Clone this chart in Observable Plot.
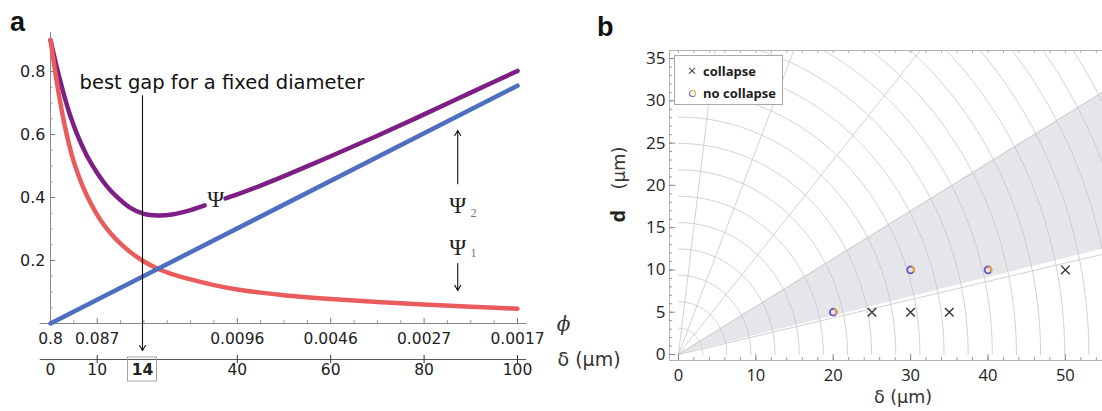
<!DOCTYPE html>
<html><head><meta charset="utf-8">
<script src="https://cdn.jsdelivr.net/npm/d3@7"></script>
<script src="https://cdn.jsdelivr.net/npm/@observablehq/plot@0.6"></script>
<style>
html,body{margin:0;padding:0;background:#fff;}
#wrap{position:relative;width:1102px;height:411px;overflow:hidden;background:#fff;}
.letter{font-family:"Liberation Sans",Arial,sans-serif;font-weight:bold;font-size:27px;line-height:27px;color:#111;}
#legend{border:1px solid #a8a8a8;background:#fff;font-family:"Open Sans",sans-serif;font-weight:bold;font-size:13px;color:#222;box-sizing:border-box;}
#legend .row{position:absolute;left:0;white-space:nowrap;}
#legend .sym{display:inline-block;width:22px;text-align:center;font-weight:normal;color:#444;}
#legend .ring{display:inline-block;width:5px;height:5px;border-radius:50%;border:1.8px solid;border-color:#f0a030 #f0a030 #7060c0 #7060c0;vertical-align:middle;margin-top:-2px;}
</style></head><body><div id="wrap"></div>
<script>
// ---------------- Panel a data ----------------
const tRed   = [0,1,2,3,4,5,6,7,8,10,12,14,17,20,23,26,30,35,40,45,50,60,70,80,90,100];
const psi1   = [0.90,0.80,0.71,0.632,0.567,0.513,0.47,0.432,0.40,0.345,0.302,0.268,0.228,0.197,0.174,0.157,0.14,0.122,0.108,0.098,0.09,0.078,0.068,0.06,0.053,0.047];
const tPsi   = [0,1,2,3,4,5,6,7,8,10,12,14,17,20,23,26,30,33,35,37.5,40,45,50,60,70,80,90,100];
const psiTot = [0.90,0.835,0.775,0.72,0.67,0.628,0.59,0.557,0.527,0.478,0.437,0.405,0.368,0.348,0.343,0.346,0.36,0.375,null,0.397,0.41,0.438,0.468,0.531,0.596,0.664,0.733,0.802];
const tBlue  = [0,100];
const psi2   = [0,0.755];
const yTicksA = [0.2,0.4,0.6,0.8];
const phiTickPos = [0,10,40,60,80,100];
const phiTickLabels = ["0.8","0.087","0.0096","0.0046","0.0027","0.0017"];
const deltaTickPos = [0,10,19.7,40,60,80,100];
const deltaTickLabels = ["0","10","14","40","60","80","100"];
const deltaMajorTicks = [10,40,60,80,100];
const bestGapLabel = "14";
const bestGapT = 19.7;
// annotation anchors (in data units of panel a)
const noteText = [{text:"best gap for a fixed diameter", t:36.7, v:0.765}];
const psiLabel = [{text:"Ψ", t:35.4, v:0.392}];
const psiSideLabels = [{text:"Ψ", sub:"2", t:87.2, v:0.375, subT:90.6, subV:0.349},
                       {text:"Ψ", sub:"1", t:87.2, v:0.241, subT:90.6, subV:0.222}];
const arrowsA = [{t1:bestGapT,v1:0.724,t2:bestGapT,v2:-0.086},
                 {t1:87.2,v1:0.444,t2:87.2,v2:0.613},
                 {t1:87.2,v1:0.19,t2:87.2,v2:0.105}];

// ---------------- Panel b data ----------------
const collapseDelta = [25,30,35,50];
const collapseD     = [5,5,5,10];
const noCollapseDelta = [20,30,40];
const noCollapseD     = [5,10,10];
const wedgeAngles = [12.8,29.5];   // degrees: lower and upper edge of grey sector
const wedgeLowerLine = 12.2;
const radialAngles = [82.5,67.5,49];
const arcRadii = [3.12,6.24,9.36,12.48,15.6,18.72,21.84,24.96,28.08,31.2,34.32,37.44,40.56,43.68,46.8,49.92,53.04,56.16,59.28,62.4,65.52];
const xTicksB = [0,10,20,30,40,50];
const yTicksB = [0,5,10,15,20,25,30,35];

// ---------------- build ----------------
const wrap = document.getElementById("wrap");
function place(el, left, top){ el.style.position="absolute"; el.style.left=left+"px"; el.style.top=top+"px"; wrap.appendChild(el); return el; }

const red = tRed.map((t,i)=>({t, v:psi1[i]}));
const purple = tPsi.map((t,i)=>({t, v:psiTot[i]}));
const blue = tBlue.map((t,i)=>({t, v:psi2[i]}));
const yMinorA = d3.range(1,19).map(k=>k*0.05).filter(v=>!yTicksA.some(m=>Math.abs(m-v)<1e-6));
const xMinorA = d3.range(1,21).map(k=>k*5).filter(v=>!phiTickPos.includes(v));
const SERIF = "Liberation Serif";

const plotA = Plot.plot({
  width: 600, height: 411,
  marginLeft: 50, marginRight: 83, marginTop: 32, marginBottom: 88,
  x: {domain: [0,100], axis: null},
  y: {domain: [0,0.924], axis: null},
  style: {fontFamily: "DejaVu Sans", color: "#222", background: "transparent", overflow: "visible"},
  marks: [
    Plot.ruleX([0], {stroke: "#8a8a8a"}),
    Plot.ruleY([0], {x1: -2.2, x2: 102, stroke: "#8a8a8a", clip: false}),
    Plot.ruleY(yMinorA, {x1: 0, x2: 0.55, stroke: "#999"}),
    Plot.ruleY(yTicksA, {x1: 0, x2: 1.1, stroke: "#777"}),
    Plot.ruleX(xMinorA, {y1: 0, y2: 0.009, stroke: "#999"}),
    Plot.ruleX(phiTickPos, {y1: 0, y2: 0.016, stroke: "#777"}),
    Plot.axisY({ticks: yTicksA, tickSize: 0, tickPadding: 5, fontSize: 16, label: null, tickFormat: d=>d.toFixed(1)}),
    Plot.axisX({ticks: phiTickPos, tickSize: 0, tickPadding: 9, fontSize: 15.5, label: null,
                tickFormat: d=>phiTickLabels[phiTickPos.indexOf(d)]}),
    Plot.line(purple, {x: "t", y: "v", stroke: "#7d1f85", strokeWidth: 4.5, curve: "catmull-rom"}),
    Plot.line(red, {x: "t", y: "v", stroke: "#ea5b5c", strokeWidth: 4.5, curve: "catmull-rom"}),
    Plot.line(blue, {x: "t", y: "v", stroke: "#4e6ec0", strokeWidth: 4.5}),
    Plot.arrow(arrowsA, {x1: "t1", y1: "v1", x2: "t2", y2: "v2", stroke: "#111", strokeWidth: 1.1, headLength: 8, clip: false}),
    Plot.text(noteText, {x: "t", y: "v", text: "text", fontSize: 19.5, fill: "#111"}),
    Plot.text(psiLabel, {x: "t", y: "v", text: "text", fontSize: 23, fontFamily: SERIF, fill: "#222"}),
    Plot.text(psiSideLabels, {x: "t", y: "v", text: "text", fontSize: 23, fontFamily: SERIF, fill: "#222"}),
    Plot.text(psiSideLabels, {x: "subT", y: "subV", text: "sub", fontSize: 12, fontFamily: SERIF, fill: "#777"}),
    Plot.text(["ϕ"], {x: 100, y: 0, dx: 46, dy: 1, fontSize: 20, fontFamily: "DejaVu Serif", fontStyle: "italic", fill: "#333"})
  ]
});
place(plotA, 0, 0);

// delta axis under panel a
const deltaTicks = deltaTickPos.map((p,i)=>({p, label: deltaTickLabels[i]}));
const plotDelta = Plot.plot({
  width: 600, height: 60,
  marginLeft: 50, marginRight: 83, marginTop: 15, marginBottom: 37,
  x: {domain: [0,100], axis: null},
  y: {domain: [0,1], axis: null},
  style: {fontFamily: "DejaVu Sans", color: "#222", background: "transparent", overflow: "visible"},
  marks: [
    Plot.ruleY([0.5], {x1: -2.2, x2: 102, stroke: "#555", clip: false}),
    Plot.tickX(deltaMajorTicks, {x: d=>d, stroke: "#333"}),
    Plot.text(deltaTicks.filter(d=>d.label!==bestGapLabel), {x: "p", text: "label", frameAnchor: "bottom", dy: 11, fontSize: 15.5}),
    Plot.text(deltaTicks.filter(d=>d.label===bestGapLabel), {x: "p", text: "label", frameAnchor: "bottom", dy: 11, fontSize: 15.5, fontWeight: "bold"}),
    Plot.rect(deltaTicks.filter(d=>d.label===bestGapLabel), {x1: d=>d.p-3.1, x2: d=>d.p+3.1, insetTop: 2, insetBottom: -18, fill: "none", stroke: "#999", strokeWidth: 0.9}),
    Plot.text(["δ (μm)"], {x: 100, dx: 40, textAnchor: "start", fontSize: 19, fill: "#333"})
  ]
});
place(plotDelta, 0, 340);

// ---------------- Panel b ----------------
const rad = Math.PI/180;
const collapse = collapseDelta.map((x,i)=>({x, y: collapseD[i]}));
const noCollapse = noCollapseDelta.map((x,i)=>({x, y: noCollapseD[i]}));
const arcs = arcRadii.flatMap(r => d3.range(0, 91, 1.5).map(a => ({r, x: r*Math.cos(a*rad), y: r*Math.sin(a*rad)})));
const radials = radialAngles.map(a => ({x: 90*Math.cos(a*rad), y: 90*Math.sin(a*rad)}));
const wedge = [0, 70].map(x => ({x, lo: x*Math.tan(wedgeAngles[0]*rad), hi: x*Math.tan(wedgeAngles[1]*rad)}));
const wedgeEdges = [wedgeAngles[1], wedgeLowerLine].map(a => ({x: 90*Math.cos(a*rad), y: 90*Math.sin(a*rad)}));
const xMinorB = d3.range(0, 55, 2);
const yMinorB = d3.range(0, 36, 1);
const XMIN = -1.16, XMAX = 54.8, YMIN = -0.71, YMAX = 35.95;

const plotB = Plot.plot({
  width: 522, height: 411,
  marginLeft: 89, marginRight: 0, marginTop: 50, marginBottom: 51,
  x: {domain: [XMIN, XMAX], axis: null},
  y: {domain: [YMIN, YMAX], axis: null},
  style: {fontFamily: "Open Sans", color: "#222", background: "transparent", overflow: "visible"},
  marks: [
    Plot.areaY(wedge, {x: "x", y1: "lo", y2: "hi", fill: "#e5e6e9", clip: true}),
    Plot.line(arcs, {x: "x", y: "y", z: "r", stroke: "#c6c6c6", strokeWidth: 0.8, clip: true}),
    Plot.link(radials, {x1: 0, y1: 0, x2: "x", y2: "y", stroke: "#c6c6c6", strokeWidth: 0.8, clip: true}),
    Plot.link(wedgeEdges, {x1: 0, y1: 0, x2: "x", y2: "y", stroke: "#c4c4c4", strokeWidth: 0.8, clip: true}),
    Plot.frame({stroke: "#b4b4b4"}),
    Plot.ruleY(yMinorB, {x1: XMIN, x2: XMIN+0.4, stroke: "#999"}),
    Plot.ruleY(yTicksB, {x1: XMIN, x2: XMIN+0.8, stroke: "#888"}),
    Plot.ruleX(xMinorB, {y1: YMIN, y2: YMIN+0.35, stroke: "#999"}),
    Plot.ruleX(xTicksB, {y1: YMIN, y2: YMIN+0.7, stroke: "#888"}),
    Plot.ruleX(xMinorB, {y1: YMAX-0.35, y2: YMAX, stroke: "#aaa"}),
    Plot.axisX({ticks: xTicksB, tickSize: 0, tickPadding: 9, fontSize: 16.5, label: null}),
    Plot.axisY({ticks: yTicksB, tickSize: 0, tickPadding: 4, fontSize: 17, label: null}),
    Plot.dot(collapse, {x: "x", y: "y", symbol: "times", r: 4, stroke: "#333", strokeWidth: 1.4}),
    Plot.dot(noCollapse, {x: "x", y: "y", r: 3.4, stroke: "#6e5ec2", strokeWidth: 1.9}),
    Plot.dot(noCollapse, {x: "x", y: "y", r: 3.4, stroke: "#f0a030", strokeWidth: 1.9, strokeDasharray: "8 14", strokeDashoffset: 5.5}),
    Plot.text(["δ (μm)"], {frameAnchor: "bottom", dx: 17, dy: 42, fontSize: 17.5, fontFamily: "DejaVu Sans", fill: "#333"}),
    Plot.text(["d"], {frameAnchor: "left", dx: -50.5, dy: 17, rotate: -90, fontSize: 20, fontWeight: "bold", fill: "#222"}),
    Plot.text(["(μm)"], {frameAnchor: "left", dx: -50.5, dy: -16, rotate: -90, fontSize: 18, fontFamily: "DejaVu Sans", fill: "#333"})
  ]
});
place(plotB, 580, 0);

// legend (panel b)
const legend = document.createElement("div");
legend.id = "legend";
legend.style.width = "109px"; legend.style.height = "50px";
legend.innerHTML = '<div class="row" style="top:4px;left:6px"><span class="sym" style="font-size:15px">×</span>collapse</div>' +
                   '<div class="row" style="top:28px;left:6px"><span class="sym"><span class="ring"></span></span>no collapse</div>';
place(legend, 674, 55);

// panel letters
const la = document.createElement("div"); la.className = "letter"; la.textContent = "a"; place(la, 10, 9);
const lb = document.createElement("div"); lb.className = "letter"; lb.textContent = "b"; place(lb, 597, 14);
</script></body></html>
